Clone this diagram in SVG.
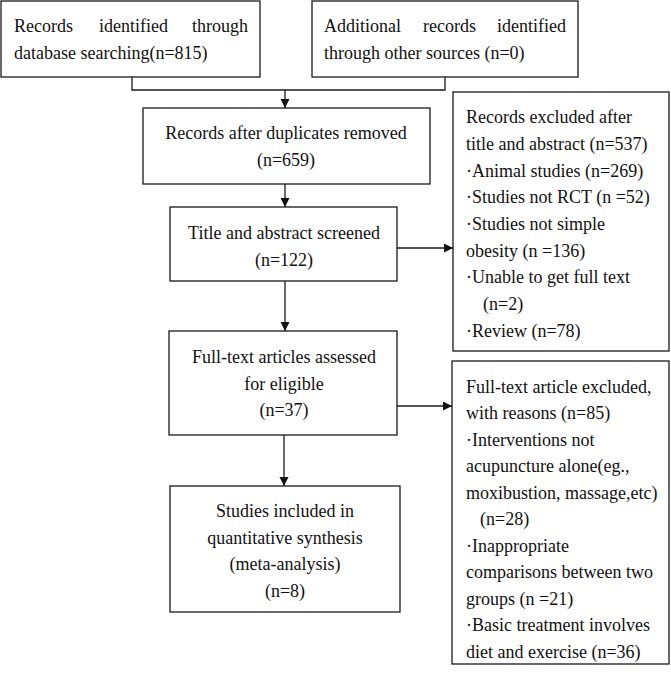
<svg xmlns="http://www.w3.org/2000/svg" width="671" height="676" viewBox="0 0 671 676">
<defs>
<style>
.box{fill:#fff;stroke:#1a1a1a;stroke-width:1.3}
.t{font-family:"Liberation Serif","Times New Roman",serif;font-size:18px;fill:#111}
.c{text-anchor:middle}
.e{text-anchor:end}
.ln{fill:none;stroke:#1a1a1a;stroke-width:1.3}
</style>
<marker id="ah" markerUnits="userSpaceOnUse" markerWidth="10" markerHeight="10" refX="9" refY="4.5" orient="auto">
<path d="M0,0 L9,4.5 L0,9 Z" fill="#111"/>
</marker>
</defs>
<rect width="671" height="676" fill="#fff"/>
<g id="connectors">
<path class="ln" d="M132,77 V90 H445 V77"/>
<line class="ln" x1="285" y1="90" x2="285" y2="108" marker-end="url(#ah)"/>
<line class="ln" x1="285" y1="184" x2="285" y2="207" marker-end="url(#ah)"/>
<line class="ln" x1="285" y1="281" x2="285" y2="331" marker-end="url(#ah)"/>
<line class="ln" x1="284" y1="435" x2="284" y2="486" marker-end="url(#ah)"/>
<line class="ln" x1="397" y1="248" x2="453" y2="248" marker-end="url(#ah)"/>
<line class="ln" x1="397" y1="406" x2="452" y2="406" marker-end="url(#ah)"/>
</g>
<g id="n1">
<rect class="box" x="1" y="1" width="259" height="76"/>
<text class="t" x="14" y="32">Records</text>
<text class="t" x="99" y="32">identified</text>
<text class="t e" x="248" y="32">through</text>
<text class="t" x="14" y="59">database searching(n=815)</text>
</g>
<g id="n2">
<rect class="box" x="312" y="1" width="266" height="76"/>
<text class="t" x="324" y="32">Additional</text>
<text class="t" x="423" y="32">records</text>
<text class="t e" x="566" y="32">identified</text>
<text class="t" x="324" y="59">through other sources (n=0)</text>
</g>
<g id="n3">
<rect class="box" x="143" y="108" width="287" height="76"/>
<text class="t c" x="286" y="139">Records after duplicates removed</text>
<text class="t c" x="286" y="166">(n=659)</text>
</g>
<g id="n4">
<rect class="box" x="170" y="207" width="227" height="74"/>
<text class="t c" x="284" y="239">Title and abstract screened</text>
<text class="t c" x="284" y="266">(n=122)</text>
</g>
<g id="n5">
<rect class="box" x="169" y="331" width="228" height="104"/>
<text class="t c" x="284" y="363">Full-text articles assessed</text>
<text class="t c" x="284" y="390">for eligible</text>
<text class="t c" x="284" y="416">(n=37)</text>
</g>
<g id="n6">
<rect class="box" x="170" y="486" width="230" height="126"/>
<text class="t c" x="285" y="517">Studies included in</text>
<text class="t c" x="285" y="544">quantitative synthesis</text>
<text class="t c" x="285" y="570">(meta-analysis)</text>
<text class="t c" x="285" y="597">(n=8)</text>
</g>
<g id="n7">
<rect class="box" x="453" y="92" width="216" height="259"/>
<text class="t" x="466" y="123">Records excluded after</text>
<text class="t" x="466" y="150">title and abstract (n=537)</text>
<text class="t" x="466" y="177">·Animal studies (n=269)</text>
<text class="t" x="466" y="203">·Studies not RCT (n =52)</text>
<text class="t" x="466" y="230">·Studies not simple</text>
<text class="t" x="466" y="257">obesity (n =136)</text>
<text class="t" x="466" y="283">·Unable to get full text</text>
<text class="t" x="483" y="310">(n=2)</text>
<text class="t" x="466" y="337">·Review (n=78)</text>
</g>
<g id="n8">
<rect class="box" x="452" y="361" width="217" height="303"/>
<text class="t" x="466" y="393">Full-text article excluded,</text>
<text class="t" x="466" y="419">with reasons (n=85)</text>
<text class="t" x="466" y="446">·Interventions not</text>
<text class="t" x="466" y="472">acupuncture alone(eg.,</text>
<text class="t" x="466" y="499">moxibustion, massage,etc)</text>
<text class="t" x="480" y="525">(n=28)</text>
<text class="t" x="466" y="552">·Inappropriate</text>
<text class="t" x="466" y="578">comparisons between two</text>
<text class="t" x="466" y="605">groups (n =21)</text>
<text class="t" x="466" y="631">·Basic treatment involves</text>
<text class="t" x="466" y="658">diet and exercise (n=36)</text>
</g>
</svg>
